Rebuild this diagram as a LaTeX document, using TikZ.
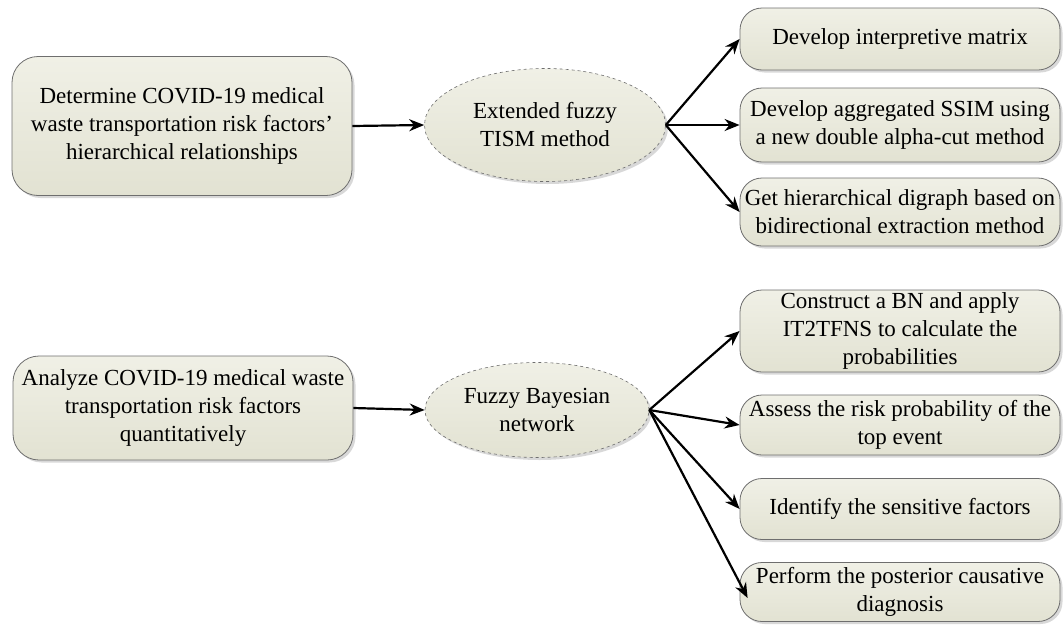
\documentclass[tikz,border=0pt]{standalone}
\usepackage{fontspec}
\setmainfont{Liberation Serif}
\usetikzlibrary{arrows.meta,shadows,shapes.geometric}
\definecolor{boxtop}{HTML}{F0F0E6}
\definecolor{boxbot}{HTML}{E2E2D2}
\definecolor{edge}{HTML}{6E6E6E}
\tikzset{
  stepbox/.style={rectangle, rounded corners=22pt, draw=edge, line width=0.8pt,
    top color=boxtop, bottom color=boxbot, align=center, inner sep=2pt,
    font=\fontsize{23}{28}\selectfont,
    drop shadow={shadow xshift=2.5pt, shadow yshift=-2.5pt, fill=black!30, opacity=0.5}},
  leftbox/.style={stepbox, minimum width=340pt, rounded corners=26pt},
  rightbox/.style={stepbox, minimum width=320pt},
  methodell/.style={ellipse, draw=edge, dashed, line width=0.6pt,
    top color=boxtop, bottom color=boxbot, align=center, inner sep=0pt,
    font=\fontsize{23}{28}\selectfont,
    drop shadow={shadow xshift=2.5pt, shadow yshift=-2.5pt, fill=black!30, opacity=0.5}},
  flow/.style={line width=2.2pt, -{Stealth[length=15pt,width=12pt]}}
}
\begin{document}
\begin{tikzpicture}[x=1pt,y=-1pt]
\useasboundingbox (0,0) rectangle (1064,624);

% first stage: hierarchical relationships
\node[leftbox, minimum height=139pt] (det) at (182,126)
  {Determine COVID-19 medical\\waste transportation risk factors'\\hierarchical relationships};
\node[methodell, minimum width=241pt, minimum height=113pt] (tism) at (545,125)
  {Extended fuzzy\\TISM method};
\node[rightbox, minimum height=62pt] (r1) at (900,39) {Develop interpretive matrix};
\node[rightbox, minimum height=74pt] (r2) at (900,125)
  {Develop aggregated SSIM using\\a new double alpha-cut method};
\node[rightbox, minimum height=68pt] (r3) at (900,212)
  {Get hierarchical digraph based on\\bidirectional extraction method};

% second stage: quantitative analysis
\node[leftbox, minimum height=104pt] (ana) at (183,408)
  {Analyze COVID-19 medical waste\\transportation risk factors\\quantitatively};
\node[methodell, minimum width=224pt, minimum height=95pt] (fbn) at (537,410)
  {Fuzzy Bayesian\\network};
\node[rightbox, minimum height=82pt] (s1) at (900,331)
  {Construct a BN and apply\\IT2TFNS to calculate the\\probabilities};
\node[rightbox, minimum height=60pt] (s2) at (900,425)
  {Assess the risk probability of the\\top event};
\node[rightbox, minimum height=61pt] (s3) at (900,509) {Identify the sensitive factors};
\node[rightbox, minimum height=59pt] (s4) at (900,592)
  {Perform the posterior causative\\diagnosis};

% connectors
\draw[flow] (det.east) -- (tism.west);
\draw[flow] (tism.east) -- (r1.west);
\draw[flow] (tism.east) -- (r2.west);
\draw[flow] (tism.east) -- (r3.west);
\draw[flow] (ana.east) -- (fbn.west);
\draw[flow] (fbn.east) -- (s1.west);
\draw[flow] (fbn.east) -- (s2.west);
\draw[flow] (fbn.east) -- (s3.west);
\draw[flow] (fbn.east) -- ([xshift=8pt,yshift=-6pt]s4.west);
\end{tikzpicture}
\end{document}
